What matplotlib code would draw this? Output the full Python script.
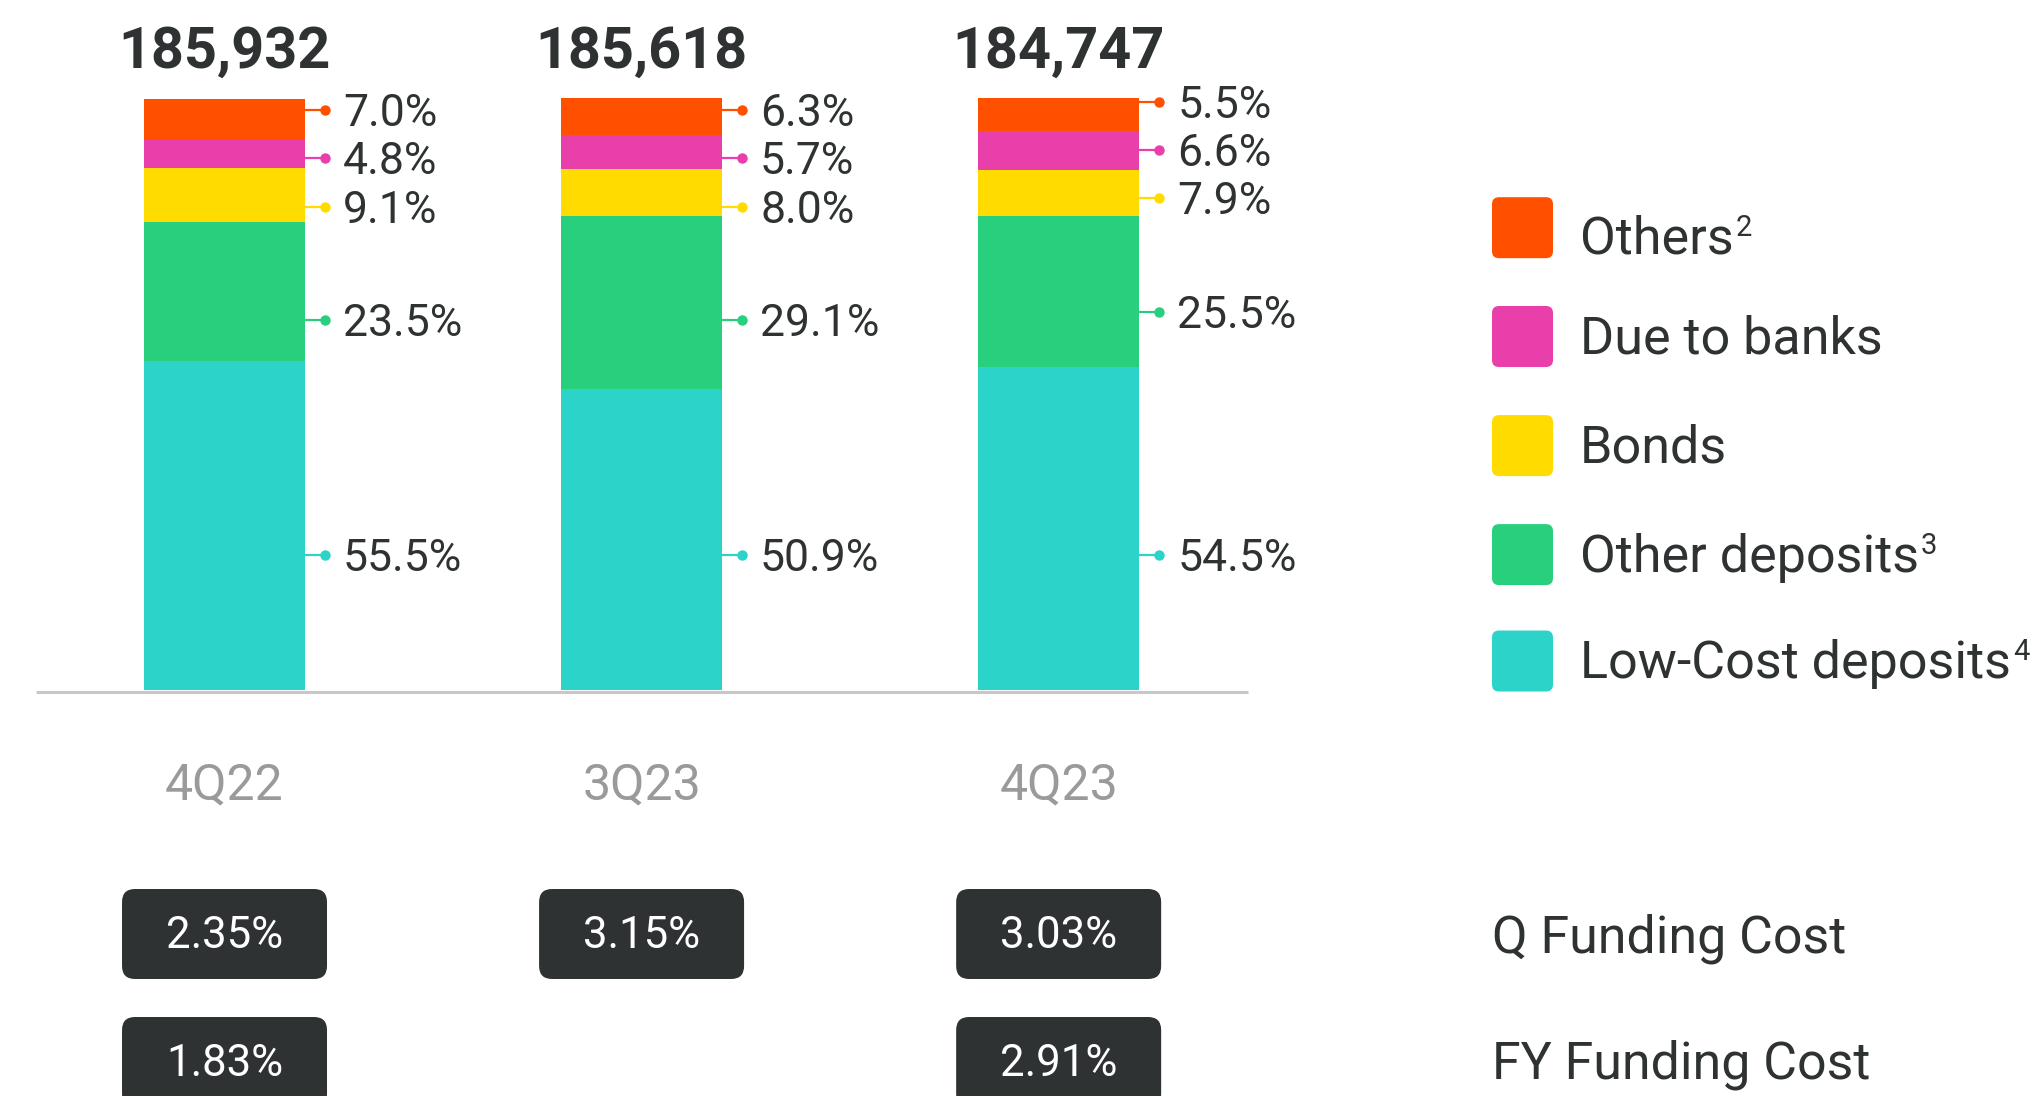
import matplotlib
matplotlib.use('Agg')
import matplotlib.pyplot as plt
from matplotlib.patches import FancyBboxPatch

plt.rcParams['font.family'] = ['Roboto', 'DejaVu Sans']

# ---------------- data ----------------
categories = ['4Q22', '3Q23', '4Q23']
totals = [185932, 185618, 184747]
series_names = ['Low-Cost deposits', 'Other deposits', 'Bonds', 'Due to banks', 'Others']
series_sup = ['4', '3', '', '', '2']
low_cost = [55.5, 50.9, 54.5]
other_deposits = [23.5, 29.1, 25.5]
bonds = [9.1, 8.0, 7.9]
due_to_banks = [4.8, 5.7, 6.6]
others = [7.0, 6.3, 5.5]
q_funding_cost = [2.35, 3.15, 3.03]
fy_funding_cost = [1.83, None, 2.91]

# ---------------- style / layout ----------------
colors = ['#2CD3C9', '#28D07D', '#FFDB00', '#E83FAA', '#FF5000']
dark = '#2E3233'
grey = '#9A9A9A'
# label anchor heights (axis % units) per bar, bottom->top series
label_y = [[22.8, 62.5, 81.6, 89.9, 98.0],
           [22.8, 62.5, 81.6, 89.9, 98.0],
           [22.8, 63.9, 83.1, 91.2, 99.3]]

W, H = 2034, 1096
fig = plt.figure(figsize=(W / 100, H / 100), dpi=100)
fig.patch.set_facecolor('white')

ax = fig.add_axes([36 / W, 1 - 690 / H, (1248 - 36) / W, 592 / H])
ax.set_xlim(-0.452, 2.454)
ax.set_ylim(0, 100)
ax.axis('off')

lay = fig.add_axes([0, 0, 1, 1], zorder=5)
lay.set_xlim(0, W)
lay.set_ylim(H, 0)
lay.axis('off')
lay.patch.set_alpha(0)


def to_px(x, y):
    d = ax.transData.transform((x, y))
    return lay.transData.inverted().transform(d)


series = [low_cost, other_deposits, bonds, due_to_banks, others]
bar_w = 0.386
xs = list(range(len(categories)))
bottom = [0.0] * len(categories)
for vals, col in zip(series, colors):
    ax.bar(xs, vals, width=bar_w, bottom=bottom, color=col, linewidth=0)
    bottom = [b + v for b, v in zip(bottom, vals)]

# baseline axis line
x0, y0 = to_px(-0.452, 0)
x1, _ = to_px(2.454, 0)
lay.plot([x0, x1], [y0 + 2, y0 + 2], color='#C8C8C8', lw=2.2, solid_capstyle='butt')

for i, cat in enumerate(categories):
    cx, _ = to_px(i, 0)
    rx, _ = to_px(i + bar_w / 2, 0)
    # totals
    lay.text(cx, 68, f'{totals[i]:,}', ha='center', va='baseline', fontsize=41.5,
             fontweight='bold', color=dark)
    # category label
    lay.text(cx, 799, cat, ha='center', va='baseline', fontsize=36, color=grey)
    # segment labels
    for s, vals in enumerate(series):
        _, py = to_px(i, label_y[i][s])
        lay.plot([rx, rx + 20], [py, py], color=colors[s], lw=1.6, solid_capstyle='butt')
        lay.plot(rx + 20, py, 'o', color=colors[s], markersize=7.5, markeredgewidth=0)
        lay.text(rx + 38, py + 16, f'{vals[i]:.1f}%', ha='left', va='baseline',
                 fontsize=32, color=dark)
    # funding cost boxes
    for val, cy in ((q_funding_cost[i], 934), (fy_funding_cost[i], 1062)):
        if val is None:
            continue
        box = FancyBboxPatch((cx - 102.5, cy - 45), 205, 90,
                             boxstyle='round,pad=0,rounding_size=13',
                             facecolor=dark, edgecolor='none')
        lay.add_patch(box)
        lay.text(cx, cy + 14.5, f'{val:.2f}%', ha='center', va='baseline',
                 fontsize=31.5, color='white')

# legend
renderer = fig.canvas.get_renderer()
leg_y = [227.7, 336.5, 445.6, 554.6, 661.0]
text_shift = [9, 0, 0, 0, 0]
order = [4, 3, 2, 1, 0]
for ly, s, sh in zip(leg_y, order, text_shift):
    box = FancyBboxPatch((1492, ly - 30.5), 61, 61,
                         boxstyle='round,pad=0,rounding_size=7',
                         facecolor=colors[s], edgecolor='none')
    lay.add_patch(box)
    t = lay.text(1580, ly + 17 + sh, series_names[s], ha='left',
                 va='baseline', fontsize=37.5, color=dark)
    if series_sup[s]:
        bb = t.get_window_extent(renderer=renderer)
        ex = lay.transData.inverted().transform((bb.x1, 0))[0]
        lay.text(ex + 2, ly + 17 + sh - 18, series_sup[s], ha='left', va='baseline',
                 fontsize=21, color=dark)

lay.text(1492, 952, 'Q Funding Cost', ha='left', va='baseline', fontsize=37.4, color=dark)
lay.text(1492, 1078, 'FY Funding Cost', ha='left', va='baseline', fontsize=37.4, color=dark)

fig.savefig('out.png', dpi=100)
